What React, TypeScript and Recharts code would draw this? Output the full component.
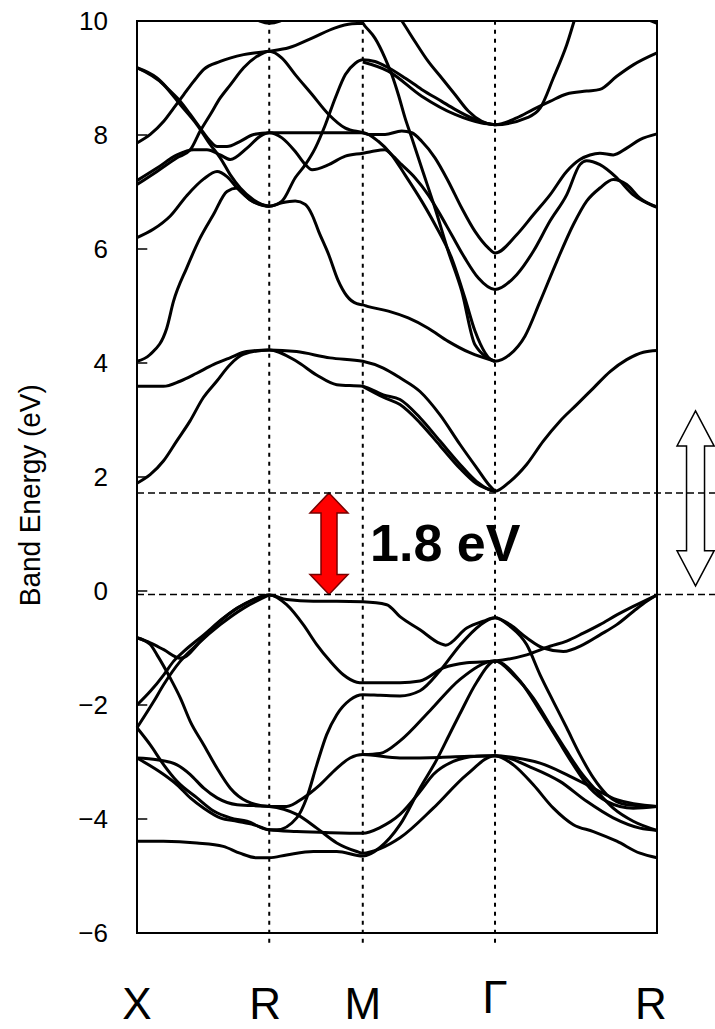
import { LineChart, Line, XAxis, YAxis, ReferenceLine, ReferenceArea, ReferenceDot } from 'recharts';

type Pt = [number, number];

// k-path positions (2π/a): X(½,0,0) → R(½,½,½) → M(½,½,0) → Γ → R
const X = 0;
const R = 0.707;
const M = 1.207;
const G = 1.914;
const R2 = 2.78;

const kTicks = [X, R, M, G, R2];
const kLabels = ['X', 'R', 'M', 'Γ', 'R'];
const eTicks = [-6, -4, -2, 0, 2, 4, 6, 8, 10];

const vbm = -0.06;
const cbm = 1.72;
const gapLabel = '1.8 eV';

// valence bands
const v1: Pt[] = [[X, -0.82], [0.071, -0.91], [0.143, -1.03], [0.232, -1.18], [0.357, -0.82], [0.445, -0.53], [0.535, -0.3], [0.624, -0.15], [R, -0.07], [0.8, -0.15], [0.943, -0.18], [1.068, -0.18], [M, -0.19], [1.335, -0.24], [1.406, -0.45], [1.513, -0.68], [1.62, -0.92], [1.65, -0.95], [1.763, -0.65], [1.851, -0.53], [G, -0.47], [1.994, -0.59], [2.083, -0.82], [2.172, -1.0], [2.279, -1.06], [2.386, -0.94], [2.475, -0.77], [2.565, -0.59], [2.653, -0.36], [2.725, -0.18], [R2, -0.07]];
const v2: Pt[] = [[X, -2.0], [0.071, -1.76], [0.143, -1.47], [0.196, -1.23], [0.25, -1.06], [0.357, -0.77], [0.464, -0.47], [0.57, -0.24], [R, -0.07], [0.8, -0.24], [0.889, -0.59], [0.961, -0.94], [1.032, -1.23], [1.103, -1.47], [1.175, -1.6], [M, -1.61], [1.406, -1.61], [1.513, -1.58], [1.638, -1.35], [1.763, -1.26], [G, -1.23], [2.083, -1.12], [2.208, -0.97], [2.297, -0.88], [2.386, -0.74], [2.475, -0.59], [2.565, -0.42], [2.653, -0.27], [R2, -0.07]];
const v3: Pt[] = [[X, -2.4], [0.089, -1.94], [0.143, -1.64], [0.232, -1.23], [0.321, -0.94], [0.445, -0.59], [0.57, -0.3], [R, -0.07]];
const v4: Pt[] = [[X, -0.82], [0.071, -0.94], [0.107, -1.12], [0.178, -1.53], [0.232, -1.88], [0.285, -2.29], [0.357, -2.7], [0.428, -3.11], [0.499, -3.46], [0.588, -3.69], [R, -3.78], [0.8, -3.78], [0.889, -3.63], [0.978, -3.4], [1.068, -3.11], [1.139, -2.93], [M, -2.87], [1.406, -2.93], [1.62, -2.92], [1.78, -2.9], [G, -2.89], [2.03, -2.93], [2.155, -3.02], [2.297, -3.22], [2.44, -3.46], [2.565, -3.66], [R2, -3.78]];
const v5: Pt[] = [[X, -2.93], [0.107, -2.96], [0.214, -3.05], [0.285, -3.22], [0.357, -3.46], [0.428, -3.63], [0.535, -3.75], [R, -3.78], [0.854, -3.92], [0.961, -4.16], [1.068, -4.42], [1.175, -4.57], [M, -4.6], [1.3, -4.52], [1.406, -4.33], [1.584, -3.81], [1.763, -3.22], [G, -2.89], [2.012, -3.05], [2.119, -3.4], [2.226, -3.81], [2.333, -4.1], [2.44, -4.22], [2.565, -4.39], [2.689, -4.6], [R2, -4.68]];
const v6: Pt[] = [[X, -2.4], [0.071, -2.7], [0.143, -3.05], [0.214, -3.34], [0.321, -3.63], [0.41, -3.86], [0.499, -3.98], [0.588, -4.04], [R, -4.19], [0.747, -4.19], [0.854, -3.98], [0.907, -3.63], [0.961, -3.05], [1.014, -2.52], [1.068, -2.17], [1.139, -1.91], [M, -1.82], [1.3, -1.83], [1.406, -1.84], [1.513, -1.75], [1.62, -1.4], [1.727, -0.95], [1.834, -0.6], [G, -0.47], [1.994, -0.62], [2.083, -0.94], [2.155, -1.47], [2.226, -1.94], [2.297, -2.4], [2.368, -2.87], [2.44, -3.28], [2.511, -3.57], [2.618, -3.75], [R2, -3.78]];
const v7: Pt[] = [[X, -2.93], [0.143, -3.22], [0.214, -3.4], [0.285, -3.63], [0.357, -3.81], [0.445, -3.98], [0.535, -4.04], [0.624, -4.1], [R, -4.19], [0.854, -4.22], [1.032, -4.24], [M, -4.25], [1.299, -4.15], [1.406, -3.92], [1.513, -3.52], [1.584, -3.22], [1.691, -2.99], [1.816, -2.9], [G, -2.89], [2.119, -3.11], [2.261, -3.34], [2.404, -3.69], [2.546, -3.98], [2.689, -4.16], [R2, -4.2]];
const v8: Pt[] = [[X, -4.39], [0.141, -4.39], [0.32, -4.42], [0.461, -4.48], [0.55, -4.6], [0.64, -4.68], [R, -4.68], [0.8, -4.63], [0.943, -4.57], [1.068, -4.57], [M, -4.65], [1.299, -4.5], [1.406, -4.1], [1.513, -3.46], [1.604, -2.95], [1.673, -2.5], [1.727, -2.15], [1.816, -1.6], [G, -1.23], [2.012, -1.47], [2.119, -1.88], [2.208, -2.35], [2.297, -2.81], [2.368, -3.16], [2.458, -3.51], [2.546, -3.81], [2.653, -4.04], [R2, -4.2]];
const v9: Pt[] = [[M, -2.87], [1.299, -2.85], [1.406, -2.63], [1.566, -2.1], [1.727, -1.55], [G, -1.23], [2.048, -1.58], [2.155, -2.11], [2.244, -2.58], [2.333, -3.05], [2.422, -3.46], [2.511, -3.69], [2.653, -3.81], [R2, -3.78]];

// conduction bands
const c1: Pt[] = [[X, 9.18], [0.107, 9.0], [0.178, 8.77], [0.232, 8.59], [0.285, 8.36], [0.338, 8.12], [0.392, 7.89], [0.428, 7.8], [0.481, 7.8], [0.552, 7.89], [0.624, 8.01], [R, 8.04], [0.9, 8.04], [1.05, 8.04], [M, 8.04], [1.29, 7.89], [1.362, 7.65], [1.433, 7.3], [1.522, 6.84], [1.593, 6.43], [1.682, 5.84], [1.753, 5.14], [1.807, 4.56], [G, 4.03], [1.994, 4.15], [2.074, 4.47], [2.155, 5.08], [2.244, 5.78], [2.333, 6.43], [2.404, 6.84], [2.475, 7.07], [2.546, 7.22], [2.618, 7.13], [2.689, 6.89], [R2, 6.73]];
const c2: Pt[] = [[X, 9.18], [0.143, 8.88], [0.232, 8.53], [0.321, 8.18], [0.392, 7.83], [0.445, 7.6], [0.499, 7.3], [0.552, 7.07], [0.624, 6.86], [R, 6.75], [0.775, 6.81], [0.846, 6.84], [0.9, 6.78], [0.936, 6.6], [0.971, 6.31], [1.025, 5.9], [1.075, 5.45], [1.121, 5.18], [1.175, 5.04], [M, 5.02], [1.237, 4.99], [1.344, 4.91], [1.45, 4.79], [1.557, 4.61], [1.664, 4.38], [1.78, 4.18], [G, 4.03]];
const c3: Pt[] = [[X, 7.86], [0.071, 8.01], [0.143, 8.24], [0.196, 8.47], [0.25, 8.71], [0.303, 8.94], [0.357, 9.15], [0.445, 9.29], [0.57, 9.41], [R, 9.47], [0.811, 9.53], [0.936, 9.7], [1.06, 9.88], [1.149, 9.95], [M, 9.96], [1.219, 9.91], [1.272, 9.7], [1.326, 9.35], [1.362, 9.06], [1.397, 8.71], [1.433, 8.3], [1.469, 7.95], [1.522, 7.42], [1.593, 6.72], [1.664, 5.96], [1.736, 5.26], [1.807, 4.32], [G, 4.03]];
const c4: Pt[] = [[X, 7.13], [0.107, 7.36], [0.214, 7.6], [0.285, 7.74], [0.338, 8.07], [0.392, 8.36], [0.445, 8.65], [0.499, 8.88], [0.57, 9.18], [0.642, 9.38], [R, 9.47], [0.775, 9.35], [0.846, 9.06], [0.936, 8.71], [1.025, 8.36], [1.114, 8.12], [M, 8.04], [1.237, 8.01], [1.326, 8.01], [1.415, 8.07], [1.469, 8.04], [1.522, 7.89], [1.593, 7.6], [1.664, 7.19], [1.736, 6.72], [1.807, 6.31], [1.878, 6.02], [G, 5.93], [2.03, 6.25], [2.119, 6.6], [2.208, 6.95], [2.297, 7.36], [2.368, 7.57], [2.422, 7.65], [2.475, 7.68], [2.546, 7.65], [2.618, 7.77], [2.689, 7.92], [R2, 8.02]];
const c5: Pt[] = [[X, 7.2], [0.107, 7.42], [0.214, 7.65], [0.303, 7.74], [0.374, 7.74], [0.445, 7.65], [0.499, 7.57], [0.588, 7.77], [0.659, 7.98], [R, 8.04], [0.775, 7.95], [0.846, 7.71], [0.9, 7.48], [0.936, 7.39], [1.025, 7.48], [1.114, 7.63], [M, 7.68], [1.255, 7.71], [1.326, 7.74], [1.362, 7.65], [1.415, 7.48], [1.486, 7.25], [1.557, 6.95], [1.611, 6.66], [1.682, 6.25], [1.753, 5.84], [1.825, 5.49], [G, 5.29], [2.03, 5.55], [2.119, 5.96], [2.208, 6.49], [2.297, 6.95], [2.368, 7.48], [2.404, 7.55], [2.475, 7.48], [2.565, 7.25], [2.653, 6.95], [R2, 6.74]];
const c6: Pt[] = [[X, 6.2], [0.089, 6.35], [0.178, 6.58], [0.267, 6.94], [0.357, 7.23], [0.428, 7.36], [0.481, 7.27], [0.535, 7.07], [0.606, 6.86], [R, 6.75], [0.775, 6.84], [0.846, 7.25], [0.9, 7.48], [0.953, 7.77], [1.007, 8.18], [1.06, 8.65], [1.114, 9.06], [1.167, 9.26], [M, 9.32], [1.272, 9.29], [1.344, 9.18], [1.433, 9.0], [1.522, 8.8], [1.629, 8.59], [1.7, 8.45], [1.789, 8.3], [G, 8.18], [2.03, 8.3], [2.119, 8.45], [2.208, 8.59], [2.297, 8.72], [2.404, 8.77], [2.475, 8.8], [2.565, 9.03], [2.653, 9.23], [R2, 9.44]];
const c7: Pt[] = [[X, 4.03], [0.07, 4.15], [0.159, 4.61], [0.195, 5.08], [0.266, 5.67], [0.337, 6.19], [0.408, 6.6], [0.481, 7.01], [0.535, 7.07], [0.606, 6.86], [R, 6.75]];
const c8: Pt[] = [[X, 3.59], [0.141, 3.59], [0.23, 3.68], [0.319, 3.82], [0.408, 3.97], [0.497, 4.09], [0.586, 4.2], [R, 4.23], [0.853, 4.03], [0.96, 3.79], [1.068, 3.62], [M, 3.59], [1.317, 3.44], [1.406, 3.36], [1.513, 3.04], [1.62, 2.63], [1.727, 2.22], [1.816, 1.92], [G, 1.75], [1.994, 1.92], [2.083, 2.22], [2.172, 2.63], [2.261, 2.98], [2.351, 3.27], [2.44, 3.56], [2.529, 3.85], [2.618, 4.06], [2.707, 4.19], [R2, 4.22]];
const c9: Pt[] = [[X, 1.89], [0.07, 2.04], [0.141, 2.28], [0.212, 2.63], [0.283, 2.98], [0.354, 3.39], [0.426, 3.68], [0.497, 3.97], [0.568, 4.15], [R, 4.23], [0.853, 4.2], [1.032, 4.09], [M, 4.03], [1.317, 3.91], [1.406, 3.74], [1.513, 3.5], [1.62, 3.09], [1.727, 2.57], [1.816, 2.16], [1.887, 1.84], [G, 1.75]];
const c10: Pt[] = [[M, 3.59], [1.317, 3.4], [1.406, 3.27], [1.513, 2.95], [1.62, 2.55], [1.727, 2.15], [1.816, 1.88], [G, 1.75]];
const c11: Pt[] = [[0.45, 11.0], [0.586, 10.14], [0.657, 10.0], [R, 9.96], [0.764, 10.0], [0.836, 10.14], [1.0, 10.8], [M, 11.0], [1.3, 10.55], [1.424, 9.96], [1.486, 9.64], [1.557, 9.29], [1.629, 9.0], [1.7, 8.71], [1.771, 8.42], [1.843, 8.24], [G, 8.18], [2.083, 8.3], [2.155, 8.47], [2.226, 9.0], [2.297, 9.58], [2.351, 10.14], [2.45, 10.9], [2.55, 11.0], [2.653, 10.14], [2.725, 10.03], [R2, 9.96]];
const c12: Pt[] = [[M, 9.28], [1.343, 9.12], [1.522, 8.68], [1.7, 8.36], [1.843, 8.21], [G, 8.18]];

const bands: Pt[][] = [v1, v2, v3, v4, v5, v6, v7, v8, v9, c1, c2, c3, c4, c5, c6, c7, c8, c9, c10, c11, c12];

const FONT = '"Liberation Sans", Arial, sans-serif';

function KTick({ x, y, index }: any) {
  const label = kLabels[index];
  const dy = label === 'Γ' ? 72 : 78;
  const dx = index === 1 ? -4 : index === 4 ? -6 : 0;
  return (
    <text x={x + dx} y={y + dy} textAnchor="middle" fontSize={label === 'Γ' ? 46 : 44} fontFamily={FONT} fill="#000">
      {label}
    </text>
  );
}

function YTitle({ viewBox }: any) {
  const cx = viewBox.x + 30;
  const cy = viewBox.y + viewBox.height * 0.52;
  return (
    <text
      x={cx}
      y={cy}
      transform={`rotate(-90, ${cx}, ${cy})`}
      textAnchor="middle"
      dominantBaseline="central"
      fontSize={29}
      textLength={222}
      lengthAdjust="spacingAndGlyphs"
      fontFamily={FONT}
      fill="#000"
    >
      Band Energy (eV)
    </text>
  );
}

function DoubleArrow({ x, y, width, height, fill, head, shaft }: any) {
  const cx = x + width / 2;
  const pts = [
    [cx, y], [x + width, y + head], [cx + shaft, y + head], [cx + shaft, y + height - head],
    [x + width, y + height - head], [cx, y + height], [x, y + height - head], [cx - shaft, y + height - head],
    [cx - shaft, y + head], [x, y + head],
  ];
  return <polygon points={pts.map((p) => p.join(',')).join(' ')} fill={fill} stroke={fill === '#ff0000' ? '#700' : '#000'} strokeWidth={1.5} />;
}

export default function App() {
  return (
    <div style={{ position: 'absolute', left: 0, top: 0 }}>
      <LineChart width={715} height={1029} margin={{ top: 21, right: 58, bottom: 0, left: 0 }}>
        <XAxis
          dataKey="k"
          type="number"
          domain={[X, R2]}
          ticks={kTicks}
          interval={0}
          height={96}
          axisLine={false}
          tickLine={false}
          tick={<KTick />}
        />
        <YAxis
          type="number"
          domain={[-6, 10]}
          ticks={eTicks}
          allowDataOverflow
          width={137}
          axisLine={false}
          tickLine={false}
          tickSize={6}
          tickMargin={23}
          tick={{ fontSize: 26, fill: '#000', fontFamily: FONT }}
          tickFormatter={(v: number) => (v < 0 ? `\u2212${Math.abs(v)}` : String(v))}
          label={YTitle}
        />

        {[R, M, G].map((k) => (
          <ReferenceLine
            key={`v-${k}`}
            segment={[{ x: k, y: -6.17 }, { x: k, y: 10 }]}
            ifOverflow="visible"
            stroke="#000"
            strokeWidth={2}
            strokeDasharray="4 5"
          />
        ))}
        {[vbm, cbm].map((e) => (
          <ReferenceLine
            key={`h-${e}`}
            segment={[{ x: X, y: e }, { x: 3.09, y: e }]}
            ifOverflow="visible"
            stroke="#000"
            strokeWidth={1.5}
            strokeDasharray="7 4"
          />
        ))}
        {eTicks.slice(1, -1).map((e) => (
          <ReferenceLine key={`t-${e}`} segment={[{ x: X, y: e }, { x: 0.055, y: e }]} stroke="#000" strokeWidth={1.5} />
        ))}

        {bands.map((b, i) => (
          <Line
            key={i}
            data={b.map(([k, e]) => ({ k, e }))}
            dataKey="e"
            type="monotone"
            stroke="#000"
            strokeWidth={3}
            dot={false}
            isAnimationActive={false}
          />
        ))}

        <ReferenceArea x1={X} x2={R2} y1={-6} y2={10} fill="none" stroke="#000" strokeWidth={2} ifOverflow="visible" />
        <ReferenceArea
          x1={0.925}
          x2={1.128}
          y1={vbm}
          y2={cbm}
          ifOverflow="visible"
          shape={(p: any) => <DoubleArrow {...p} fill="#ff0000" head={20} shaft={8} />}
        />
        <ReferenceArea
          x1={2.887}
          x2={3.085}
          y1={0.09}
          y2={3.16}
          ifOverflow="visible"
          shape={(p: any) => <DoubleArrow {...p} fill="#ffffff" head={35} shaft={9} />}
        />
        <ReferenceDot
          x={1.246}
          y={0.53}
          r={0}
          ifOverflow="visible"
          shape={(p: any) => (
            <text x={p.cx} y={p.cy} fontSize={52} fontWeight="bold" fontFamily={FONT} fill="#000">
              {gapLabel}
            </text>
          )}
        />
      </LineChart>
    </div>
  );
}
